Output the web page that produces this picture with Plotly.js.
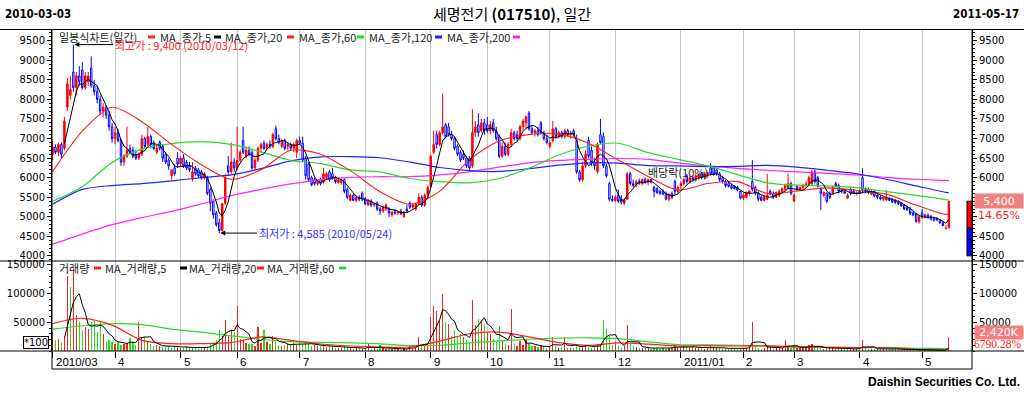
<!DOCTYPE html>
<html><head><meta charset="utf-8">
<script src="https://cdn.plot.ly/plotly-3.0.1.min.js"></script>
<style>html,body{margin:0;padding:0;background:#fff;}#chart{width:1024px;height:393px;}</style>
</head><body><div id="chart"></div>
<script>
// ---------------- DATA ----------------
const monthLabels = ['2010/03','4','5','6','7','8','9','10','11','12','2011/01','2','3','4','5'];
const monthDays   = [21,22,19,21,22,22,19,21,22,22,21,17,22,21,10];

const priceOpen = [
 6600,6780,6650,6850,6750,7800,8100,8700,8300,8600,8750,8300,8450,8800,8350,8200,8000,7700,7800,7600,7300,
 7000,7150,6950,6400,6550,6750,6700,6600,6500,6600,7000,6850,7050,6850,6650,6900,6800,6600,6450,6050,6250,6500,
 6350,6500,6400,6300,5980,6250,6200,6150,6000,6000,5700,5400,5100,4850,4650,5350,6300,6150,6400,
 6250,6450,6950,6550,6700,6650,6250,6450,6750,6880,6750,6850,6800,7250,7000,6800,6950,6800,6850,6750,6650,
 6950,6880,6500,6350,6000,5950,5850,5950,5900,6000,6150,6100,6000,5880,5880,5950,5700,5420,5550,5420,5500,5600,
 5470,5300,5400,5300,5350,5200,5150,5200,5200,5050,5120,5100,5150,5000,5200,5350,5250,5200,5350,5500,5300,5550,
 5780,6650,7100,6850,7150,7350,7300,7100,7000,6800,6650,6600,6500,6500,6300,7150,7350,7200,7400,
 7350,7200,7400,7200,7050,6550,6800,6600,6850,7150,7100,7000,7300,7400,7650,7250,7150,7200,7400,7150,7000,
 6800,6950,7250,7050,7150,7050,7200,7100,7200,6950,6150,5950,6300,6950,6700,6400,6150,7100,7050,6300,5850,5450,
 5420,5550,5450,5350,5450,6100,5850,5800,5900,5850,5950,5880,5950,5750,5720,5650,5650,5600,5450,5600,5900,5650,
 5800,5850,6050,5900,6000,5950,5980,6100,6000,6080,6250,6250,6200,6100,6000,5900,5850,5800,5780,5750,5650,
 5480,5500,5600,5900,5750,5600,5500,5420,5450,5650,5600,5500,5550,5650,5700,5750,5850,
 5400,5780,5700,5750,5800,5850,5850,6150,6000,5700,5550,5600,5600,5600,5850,5800,5700,5650,5480,5700,5650,5600,
 5650,6000,5700,5700,5580,5650,5550,5500,5450,5430,5480,5450,5400,5380,5350,5300,5230,5200,5100,5080,4880,
 5100,5000,5050,5000,4950,4960,4920,4850,4700,4720];
const priceHigh = [
 6950,6850,6900,6900,7550,8550,8600,9400,8700,8850,8950,8700,8700,9100,8500,8350,8100,7900,7850,7700,7400,
 7300,7250,7000,6600,7300,6850,6800,6700,6650,7100,7050,7300,7100,6950,6850,6950,6850,6650,6500,6200,6350,6650,
 6550,6600,6450,6400,6400,6300,6250,6200,6150,6050,5750,5450,5150,4950,5350,6100,6550,6900,6500,
 7300,6700,7300,6800,6800,6700,6500,6800,6900,6950,6900,6950,7150,7330,7100,7000,7000,6900,6900,6900,7000,
 7050,7050,6550,6400,6050,6000,5950,6000,6250,6150,6200,6250,6050,6000,5980,5980,5750,5600,5600,5550,5550,5650,
 5500,5450,5450,5350,5400,5250,5280,5350,5250,5150,5200,5150,5200,5150,5300,5400,5350,5350,5600,5550,5600,5800,
 6600,7200,7200,7200,8150,7400,7400,7200,7050,6850,6700,6700,6550,6550,7750,7450,7650,7500,7500,
 7550,7450,7500,7300,7100,6900,6900,6900,7250,7200,7200,7350,7500,7600,7700,7350,7250,7300,7450,7200,7100,
 6950,7450,7300,7200,7200,7250,7250,7200,7250,7100,6200,6400,6700,7050,6800,6500,6900,7500,7150,6350,5900,5550,
 5550,5700,5550,5480,6150,6150,5950,5950,5980,5980,6000,5980,5980,5800,5760,5700,5700,5650,5600,5650,5950,5800,
 5900,6000,6100,6050,6050,6100,6100,6150,6150,6150,6370,6300,6250,6150,6050,5950,5900,5850,5800,5800,5660,
 5600,5650,5680,6450,5800,5650,5550,5550,6100,5700,5650,5650,5700,5750,5850,6100,5900,
 5600,5800,5780,5850,5900,6050,6200,6200,6050,5750,5650,5620,5650,5800,5900,5850,5720,5700,5600,5750,5700,5650,
 5700,6240,5750,5750,5700,5680,5600,5550,5520,5680,5500,5480,5450,5420,5380,5330,5280,5250,5150,5100,5050,
 5200,5080,5080,5050,5000,4990,4950,4880,4790,5400];
const priceLow = [
 6450,6600,6550,6500,6700,7700,8000,8200,8100,8350,8250,8250,8350,8300,8100,7900,7600,7550,7500,7200,6900,
 6850,6900,6300,6300,6500,6600,6500,6450,6450,6550,6750,6800,6750,6700,6600,6700,6400,6350,6200,5950,6050,6250,
 6300,6250,6200,6150,5900,6050,6000,5950,5950,5550,5150,4950,4750,4585,4620,5300,6050,6100,6150,
 6200,6400,6600,6500,6550,6200,6200,6400,6650,6700,6700,6750,6750,6950,6850,6750,6700,6700,6700,6650,6500,
 6850,6400,5950,5900,5780,5800,5800,5800,5850,5950,5900,5950,5850,5850,5820,5600,5450,5400,5400,5380,5400,5400,
 5300,5280,5250,5250,5150,5050,5100,5150,5000,5000,5050,5050,5050,4980,5100,5200,5200,5150,5300,5250,5250,5450,
 5750,6600,6750,6800,7100,7000,7050,6950,6700,6550,6400,6450,6250,6200,6250,7050,7050,7150,7100,
 7150,7100,7150,6950,6500,6500,6550,6550,6800,6950,6950,6950,7200,7250,7200,7100,7050,7050,7100,6950,6850,
 6750,6900,7000,7000,7000,7000,7050,7000,7050,6100,5900,5900,6250,6500,6300,6200,6100,6850,6250,6000,5400,5380,
 5380,5350,5320,5300,5430,5800,5750,5750,5820,5800,5850,5800,5850,5500,5580,5550,5550,5420,5400,5450,5550,5600,
 5700,5800,5850,5850,5900,5900,5950,5950,5950,6000,6050,6050,6050,5900,5850,5750,5750,5700,5700,5650,5450,
 5430,5480,5550,5650,5550,5400,5400,5400,5430,5550,5450,5480,5500,5600,5650,5700,5550,
 5380,5650,5650,5700,5750,5800,5800,5850,5750,5170,5500,5350,5450,5580,5750,5600,5600,5580,5450,5550,5580,5550,
 5580,5600,5600,5580,5550,5500,5450,5420,5400,5400,5400,5350,5330,5300,5250,5170,5150,5050,5020,4850,4830,
 4950,4960,4950,4900,4880,4890,4820,4760,4680,4710];
const priceClose = [
 6780,6650,6850,6600,7450,8400,8250,8300,8600,8450,8300,8600,8600,8350,8200,8000,7700,7800,7600,7300,7000,
 7150,6950,6400,6550,6700,6650,6550,6500,6600,7000,6800,7050,6850,6750,6750,6750,6500,6400,6300,6200,6100,6350,
 6500,6300,6250,6200,6150,6100,6050,6000,6100,5600,5350,5050,4800,4650,5340,6000,6150,6400,6250,
 6450,6650,6650,6700,6600,6250,6450,6750,6850,6750,6850,6800,7100,7000,6900,6950,6750,6850,6750,6850,6950,
 6880,6450,6050,5950,5820,5850,5900,5850,6100,6100,5950,6000,5900,5950,5950,5650,5500,5550,5420,5500,5450,5450,
 5330,5400,5300,5330,5200,5150,5250,5300,5100,5120,5100,5120,5080,5120,5150,5250,5300,5330,5500,5300,5550,5750,
 6550,6850,6850,7150,7300,7050,7100,7000,6750,6600,6450,6500,6300,6250,7150,7300,7150,7400,7200,
 7200,7350,7200,7000,6550,6800,6600,6850,7150,7000,7000,7300,7450,7550,7250,7150,7200,7100,7150,7000,6900,
 6900,7250,7050,7150,7050,7200,7100,7150,7100,6150,5950,6300,6600,6550,6400,6300,6850,6900,6300,6050,5450,5420,
 5500,5400,5380,5430,6100,5850,5800,5900,5850,5950,5880,5950,5900,5650,5620,5600,5580,5450,5580,5500,5650,5750,
 5850,5950,5900,6000,5950,6050,6080,6000,6100,6120,6100,6100,6100,5950,5900,5800,5780,5730,5720,5680,5480,
 5550,5620,5660,5700,5600,5450,5420,5520,5550,5580,5500,5620,5650,5720,5800,5850,5600,
 5550,5700,5750,5800,5850,6000,6150,5900,5780,5600,5620,5400,5500,5750,5800,5650,5650,5600,5550,5600,5600,5620,
 5600,5700,5650,5620,5650,5530,5500,5460,5500,5480,5420,5380,5370,5340,5280,5200,5180,5080,5050,4880,5000,
 5000,5050,4980,4950,4920,4930,4850,4780,4710,5400];
// volume in units of 100 shares
const volume = [
 33000,20000,21000,15000,22000,131000,112000,144000,62000,50000,36000,42000,39000,50000,53000,33000,50000,30000,17000,20000,15000,
 13000,16000,10000,13000,14000,23000,15000,10000,50000,22000,25000,15000,12000,8000,10000,9000,7000,10000,8000,6000,9000,7000,
 6000,5000,8000,7000,5000,6000,4000,5000,7000,9000,12000,16000,20000,36000,27000,53600,27000,36000,33000,
 78700,21000,21000,14000,12000,13000,9000,42000,14000,36000,15000,13000,27000,18000,10000,9000,10000,13000,12000,14000,10000,
 14000,13000,15000,12000,9000,10000,8000,9000,12000,7000,8000,7000,6000,6000,5000,8000,7000,5000,4000,6000,5000,4000,
 5000,13000,4000,5000,3000,10000,5000,4000,3000,4000,3000,4000,2000,5000,4000,11000,3000,6000,24000,8000,10000,12000,
 59000,78700,69000,53600,100000,50000,47000,27000,36000,27000,30000,24000,20000,15000,88600,45000,56500,53600,47000,
 33000,30000,21000,15000,44000,17000,12000,10000,74000,12000,9000,18000,10000,19000,12000,9000,8000,7000,10000,8000,6000,
 7000,24000,8000,6000,7000,24000,6000,5000,5000,12000,10000,9000,8000,7000,6000,9000,12000,10000,53600,38000,27000,10000,
 15000,8000,6000,9000,46000,12000,8000,7000,6000,5000,6000,5000,4000,6000,5000,4000,5000,4000,6000,7000,11000,5000,
 6000,9000,7000,5000,8000,6000,5000,7000,4000,6000,8000,7000,5000,6000,4000,5000,3000,4000,5000,3000,6000,
 5000,6000,7000,50700,9000,6000,4000,5000,10000,6000,4000,5000,6000,5000,20000,8000,6000,
 7000,5000,6000,8000,6000,10000,12000,7000,5000,6000,4000,5000,7000,5000,4000,5000,3000,4000,5000,4000,3000,4000,
 4000,20000,5000,4000,3000,4000,3000,3000,4000,5000,3000,4000,3000,3000,2000,3000,2000,3000,2000,4000,3000,
 3000,2000,2000,2000,1500,2000,1500,1000,351,24200];

// long moving averages (they include history before 2010-03-03)
const maIdx   = [0,10,20,30,40,50,60,70,80,90,100,110,120,130,140,150,160,170,180,190,200,210,220,230,240,250,260,270,280,290,300,301];
const ma20    = [6150,7190,7800,7430,6850,6330,5960,6200,6700,6600,6180,5640,5320,5650,6460,6940,7100,7120,6880,6450,6030,5685,5850,5900,5600,5660,5740,5680,5580,5300,5060,5080];
const ma60    = [5400,5770,6390,6730,6870,6920,6850,6660,6440,6360,6200,6150,5980,5900,5870,5980,6240,6580,6810,6880,6640,6470,6300,6080,5870,5810,5790,5745,5645,5550,5440,5430];
const ma120   = [5320,5700,5800,5850,5920,6000,6070,6230,6430,6530,6540,6510,6400,6260,6180,6160,6230,6320,6380,6370,6310,6300,6285,6290,6315,6270,6190,6100,5960,5790,5625,5615];
const ma200   = [4300,4560,4800,4980,5140,5330,5540,5700,5840,5950,6010,6025,6025,6070,6150,6270,6380,6440,6470,6490,6470,6380,6300,6240,6190,6150,6110,6070,6010,5960,5930,5925];
const volMa20 = [47800,57000,45000,18600,12800,12800,14600,24500,18600,12200,8700,7000,7000,17000,30000,33000,24500,14500,10000,14000,12000,8700,9300,8700,9000,7000,6500,6000,6000,3000,2500,3500];
const volMa60 = [38000,44000,47500,46000,38000,33000,26500,20500,16500,15000,14000,12500,9500,10000,14000,17500,20500,22500,23000,21500,16000,11200,10500,10000,8500,7000,6300,6000,5800,4800,4000,4000];

const priceTicks = [4000,4500,5000,5500,6000,6500,7000,7500,8000,8500,9000,9500];
const volTicks = [50000,100000,150000];

// ---------------- DERIVED ----------------
const W = 1024, H = 393;
const PL = 52, PR = 972, PT = 30, PM = 261, PV = 351;
const fx = p => p / W, fy = p => 1 - p / H;
const N = priceClose.length;
const xs = priceClose.map((_, i) => i);
const monthStart = []; { let a = 0; for (const d of monthDays) { monthStart.push(a); a += d; } }
function sma(arr, n) { return arr.map((_, i) => i < n - 1 ? null : arr.slice(i - n + 1, i + 1).reduce((s, v) => s + v, 0) / n); }
const ma5 = sma(priceClose, 5);
const volMa5 = sma(volume, 5);
const volColor = volume.map((_, i) => {
  const up = i === 0 ? priceClose[i] >= priceOpen[i] : priceClose[i] >= priceClose[i - 1];
  return up ? '#ff2020' : '#22dd22';
});
let hiIdx = 0, loIdx = 0;
priceHigh.forEach((v, i) => { if (v > priceHigh[hiIdx]) hiIdx = i; });
priceLow.forEach((v, i) => { if (v < priceLow[loIdx]) loIdx = i; });
const lastC = priceClose[N - 1], prevC = priceClose[N - 2];
const pctC = ((lastC / prevC - 1) * 100).toFixed(2) + '%';

const xRange = [-0.17, 308.76];
const yRange = [3872, 9773];
const vRange = [0, 156800];
const xPix = i => PL + (i - xRange[0]) / (xRange[1] - xRange[0]) * (PR - PL);
const yPix = v => PT + (yRange[1] - v) / (yRange[1] - yRange[0]) * (PM - PT);

// right-axis labels hidden where the current-price boxes sit (as in the reference)
const rightPriceText = priceTicks.map(v => Math.abs(yPix(v) - yPix(lastC)) < 8 || Math.abs(yPix(v) - (yPix(lastC) + 14)) < 8 ? '' : String(v));
const volText = volTicks.map(String);

// ---------------- TRACES ----------------
const traces = [];
traces.push({
  type: 'candlestick', x: xs, open: priceOpen, high: priceHigh, low: priceLow, close: priceClose,
  xaxis: 'x', yaxis: 'y', whiskerwidth: 0, hoverinfo: 'skip',
  increasing: { line: { color: '#ff0000', width: 1 }, fillcolor: '#ff0000' },
  decreasing: { line: { color: '#0000ff', width: 1 }, fillcolor: '#ffffff' }
});
const lineT = (x, y, color, w, xa, ya, shape) => ({
  type: 'scatter', mode: 'lines', x, y, xaxis: xa, yaxis: ya, hoverinfo: 'skip',
  line: { color, width: w, shape: shape || 'linear', smoothing: 0.8 }, connectgaps: false
});
traces.push(lineT(maIdx, ma200, '#ff22ff', 1.2, 'x', 'y', 'spline'));
traces.push(lineT(maIdx, ma120, '#2222ff', 1.2, 'x', 'y', 'spline'));
traces.push(lineT(maIdx, ma60, '#22dd22', 1.2, 'x', 'y', 'spline'));
traces.push(lineT(maIdx, ma20, '#ff2020', 1.1, 'x', 'y', 'spline'));
traces.push(lineT(xs, ma5, '#000000', 1, 'x', 'y'));
traces.push({ type: 'bar', x: xs, y: volume, xaxis: 'x2', yaxis: 'y2', width: 0.4,
  marker: { color: volColor, line: { width: 0 } }, hoverinfo: 'skip' });
traces.push(lineT(maIdx, volMa60, '#22dd22', 1.2, 'x2', 'y2', 'spline'));
traces.push(lineT(maIdx, volMa20, '#ff2020', 1.2, 'x2', 'y2', 'spline'));
traces.push(lineT(xs, volMa5, '#000000', 1, 'x2', 'y2'));
traces.push({ type: 'scatter', mode: 'markers', x: [0], y: [null], xaxis: 'x', yaxis: 'y3', hoverinfo: 'skip', showlegend: false });
traces.push({ type: 'scatter', mode: 'markers', x: [0], y: [null], xaxis: 'x2', yaxis: 'y4', hoverinfo: 'skip', showlegend: false });

// ---------------- LAYOUT ----------------
const tickFont = { family: 'DejaVu Sans', size: 10, color: '#000' };
const yCommon = {
  showgrid: false, zeroline: false, showline: true, linecolor: '#000', linewidth: 1,
  ticks: 'outside', ticklen: 4, tickcolor: '#000', tickfont: tickFont, fixedrange: true
};
const xCommon = {
  domain: [fx(PL), fx(PR)], range: xRange, showgrid: true, gridcolor: '#c8c8c8', gridwidth: 1,
  tickmode: 'array', tickvals: monthStart, showticklabels: false, zeroline: false, showline: false,
  fixedrange: true, rangeslider: { visible: false }
};

const shapes = [];
const hline = (x0, x1, y) => shapes.push({ type: 'line', xref: 'paper', yref: 'paper', x0: fx(x0), x1: fx(x1), y0: fy(y), y1: fy(y), line: { color: '#000', width: 1 } });
const vline = (x, y0, y1) => shapes.push({ type: 'line', xref: 'paper', yref: 'paper', x0: fx(x), x1: fx(x), y0: fy(y0), y1: fy(y1), line: { color: '#000', width: 1 } });
hline(0, 1024, 29.5); hline(0, 1024, 261); hline(0, 1024, 351); hline(PL, PR, 369);
vline(PL, 29.5, 369); vline(PR, 29.5, 369);

const annotations = [];
const txt = (text, x, y, opts) => annotations.push(Object.assign({
  text, xref: 'paper', yref: 'paper', x: fx(x), y: fy(y), xanchor: 'left', yanchor: 'middle', showarrow: false,
  font: { family: 'Noto Sans CJK KR', size: 11, color: '#222' }
}, opts || {}));
const mark = (x, y, color) => shapes.push({ type: 'rect', xref: 'paper', yref: 'paper', x0: fx(x), x1: fx(x + 7), y0: fy(y + 1.5), y1: fy(y - 1.5), fillcolor: color, line: { width: 0 } });

// header
txt('<b>2010-03-03</b>', 3, 14, { font: { family: 'DejaVu Sans Condensed', size: 11.5, color: '#000' } });
txt('<b>2011-05-17</b>', 1021, 14, { xanchor: 'right', font: { family: 'DejaVu Sans Condensed', size: 11.5, color: '#000' } });
txt('세명전기 <b>(017510)</b>, 일간', 512, 14, { xanchor: 'center', font: { family: 'Noto Sans CJK KR', size: 15, color: '#000' } });
txt('<b>Daishin Securities Co. Ltd.</b>', 1022, 382, { xanchor: 'right', font: { family: 'Liberation Sans', size: 12, color: '#000' } });

// price legend
const pLeg = [['일봉식차트(일간)', 57, 148, '#ff2020'], ['MA_종가,5', 158, 214, '#000000'], ['MA_종가,20', 223, 287, '#ff2020'],
  ['MA_종가,60', 297, 357, '#22dd22'], ['MA_종가,120', 367, 435, '#2222ff'], ['MA_종가,200', 445, 513, '#ff22ff']];
pLeg.forEach(([t, x, mx, c]) => { txt(t, x, 37); mark(mx, 37, c); });
// volume legend
const vLeg = [['거래량', 57, 94, '#ff2020'], ['MA_거래량,5', 103, 180, '#000000'], ['MA_거래량,20', 187, 257, '#ff2020'], ['MA_거래량,60', 265, 339, '#22dd22']];
vLeg.forEach(([t, x, mx, c]) => { txt(t, x, 268); mark(mx, 268, c); });

// month labels
monthStart.forEach((s, k) => annotations.push({
  text: monthLabels[k], xref: 'x2', yref: 'paper', x: s, y: fy(362), xanchor: 'left', yanchor: 'middle', xshift: 1,
  showarrow: false, font: { family: 'Liberation Sans', size: 11.5, color: '#000' }
}));

// high / low callouts
annotations.push({ text: '최고가 : ' + priceHigh[hiIdx].toLocaleString('en-US') + ' (2010/03/12)', xref: 'x', yref: 'y', x: hiIdx, y: priceHigh[hiIdx],
  ax: 113 - xPix(hiIdx), ay: 0, xanchor: 'left', yanchor: 'middle', showarrow: true, arrowhead: 2, arrowsize: 1, arrowwidth: 1, arrowcolor: '#000', standoff: 1,
  font: { family: 'Noto Sans CJK KR', size: 11, color: '#ff2020' } });
annotations.push({ text: '최저가 : ' + priceLow[loIdx].toLocaleString('en-US') + ' (2010/05/24)', xref: 'x', yref: 'y', x: loIdx, y: priceLow[loIdx],
  ax: 257 - xPix(loIdx), ay: 0, xanchor: 'left', yanchor: 'middle', showarrow: true, arrowhead: 2, arrowsize: 1, arrowwidth: 1, arrowcolor: '#000', standoff: 1,
  font: { family: 'Noto Sans CJK KR', size: 11, color: '#3030ff' } });
txt('배당락(10%)', 646, 172, { font: { family: 'Noto Sans CJK KR', size: 11, color: '#222' } });

// right-side current price / volume boxes
annotations.push({ text: lastC.toLocaleString('en-US'), xref: 'paper', yref: 'y', x: fx(999), y: lastC, xanchor: 'center', yanchor: 'middle',
  showarrow: false, bgcolor: '#f08080', width: 46, height: 12, font: { family: 'DejaVu Sans', size: 11, color: '#fff' } });
annotations.push({ text: pctC, xref: 'paper', yref: 'y', x: fx(999), y: lastC, yshift: -14, xanchor: 'center', yanchor: 'middle',
  showarrow: false, width: 46, height: 12, font: { family: 'DejaVu Sans', size: 11, color: '#ff2020' } });
annotations.push({ text: '2,420K', xref: 'paper', yref: 'paper', x: fx(999), y: fy(332.5), xanchor: 'center', yanchor: 'middle',
  showarrow: false, bgcolor: '#f08080', width: 46, height: 11, font: { family: 'DejaVu Sans', size: 11, color: '#fff' } });
annotations.push({ text: '6790.28%', xref: 'paper', yref: 'paper', x: fx(1023), y: fy(344), xanchor: 'right', yanchor: 'middle',
  showarrow: false, font: { family: 'Liberation Sans Narrow', size: 11.5, color: '#ff2020' } });
annotations.push({ text: '*100', xref: 'paper', yref: 'paper', x: fx(36), y: fy(342), xanchor: 'center', yanchor: 'middle',
  showarrow: false, bordercolor: '#000', borderwidth: 1, borderpad: 0, bgcolor: '#fff', font: { family: 'DejaVu Sans', size: 10, color: '#000' } });

// daily price-limit bar at the right edge
shapes.push({ type: 'rect', xref: 'paper', yref: 'y', x0: fx(967), x1: fx(972), y0: prevC, y1: lastC, fillcolor: '#ff0000', line: { color: '#000', width: 1 } });
shapes.push({ type: 'rect', xref: 'paper', yref: 'y', x0: fx(967), x1: fx(972), y0: prevC * 0.85, y1: prevC, fillcolor: '#0000ff', line: { color: '#000', width: 1 } });

const layout = {
  width: W, height: H, margin: { l: 0, r: 0, t: 0, b: 0, pad: 0 }, autosize: false,
  paper_bgcolor: '#fff', plot_bgcolor: '#fff', showlegend: false, bargap: 0,
  xaxis: Object.assign({}, xCommon, { anchor: 'y', ticks: '' }),
  xaxis2: Object.assign({}, xCommon, { anchor: 'y2', matches: 'x', ticks: 'outside', ticklen: 6, tickcolor: '#000' }),
  yaxis: Object.assign({}, yCommon, { domain: [fy(PM), fy(PT)], range: yRange, tickmode: 'array', tickvals: priceTicks, ticktext: priceTicks.map(String), anchor: 'x', side: 'left',
    minor: { dtick: 100, ticks: 'outside', ticklen: 2, tickcolor: '#000', showgrid: false } }),
  yaxis3: Object.assign({}, yCommon, { range: yRange, tickmode: 'array', tickvals: priceTicks, ticktext: rightPriceText, anchor: 'x', overlaying: 'y', side: 'right',
    minor: { dtick: 100, ticks: 'outside', ticklen: 2, tickcolor: '#000', showgrid: false } }),
  yaxis2: Object.assign({}, yCommon, { domain: [fy(PV), fy(PM)], range: vRange, tickmode: 'array', tickvals: volTicks, ticktext: volText, anchor: 'x2', side: 'left',
    minor: { dtick: 10000, ticks: 'outside', ticklen: 2, tickcolor: '#000', showgrid: false } }),
  yaxis4: Object.assign({}, yCommon, { range: vRange, tickmode: 'array', tickvals: volTicks, ticktext: volText, anchor: 'x2', overlaying: 'y2', side: 'right',
    minor: { dtick: 10000, ticks: 'outside', ticklen: 2, tickcolor: '#000', showgrid: false } }),
  shapes, annotations
};

Plotly.newPlot('chart', traces, layout, { staticPlot: true, displayModeBar: false });
</script>
</body></html>
